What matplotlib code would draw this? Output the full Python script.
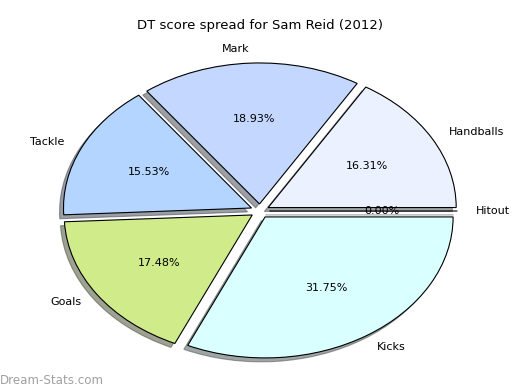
import matplotlib
matplotlib.use("Agg")
import matplotlib.pyplot as plt

labels = ["Hitout", "Handballs", "Mark", "Tackle", "Goals", "Kicks"]
shares = [0.00, 16.31, 18.93, 15.53, 17.48, 31.75]
colors = ["#e0e0ff", "#ebf1ff", "#c4d8ff", "#b3d5ff", "#d0eb8a", "#d9ffff"]
explode = [0.05] * len(shares)

fig = plt.figure(figsize=(5.2, 3.9), dpi=100)
# axes placed so the pie is stretched like the original (no equal aspect)
rx, ry = 188, 141
cx, cy = 260, 211
ax = fig.add_axes([(cx - 1.3 * rx) / 520, (390 - cy - 1.2 * ry) / 390,
                   2.6 * rx / 520, 2.4 * ry / 390])

wedges, texts, autotexts = ax.pie(
    shares, labels=labels, colors=colors, explode=explode,
    autopct="%1.2f%%", shadow={"ox": -0.015, "oy": -0.02}, startangle=0,
    labeldistance=1.1,
    wedgeprops={"linewidth": 0.8, "edgecolor": "black"},
    textprops={"fontsize": 8},
)
ax.set_aspect("auto")
ax.set_xlim(-1.3, 1.3)
ax.set_ylim(-1.2, 1.2)
ax.axis("off")

fig.text(0.5, 1 - 25 / 390, "DT score spread for Sam Reid (2012)",
         ha="center", va="center", fontsize=9.5)
fig.text(0, 1 - 380 / 390, "Dream-Stats.com", ha="left", va="center",
         fontsize=8.6, color="#a0a0a0")

fig.savefig("out.png", dpi=100)
